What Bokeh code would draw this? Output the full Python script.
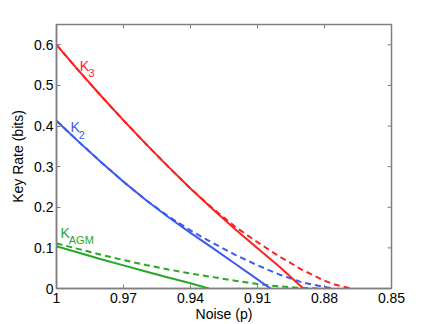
import math
from bokeh.plotting import figure
from bokeh.models import Range1d, FixedTicker, NumeralTickFormatter, Label
from bokeh.embed import file_html
from bokeh.resources import INLINE

# ---- data ----
p_k3 = [1.0, 0.99, 0.98, 0.97, 0.96, 0.95, 0.94, 0.93, 0.92, 0.91, 0.90, 0.8895]
k3_solid = [0.600, 0.536, 0.474, 0.414, 0.356, 0.300, 0.246, 0.195, 0.146, 0.099, 0.053, 0.0]
p_k3d = [1.0, 0.99, 0.98, 0.97, 0.96, 0.95, 0.94, 0.93, 0.92, 0.91, 0.90, 0.89, 0.88, 0.875, 0.87, 0.867]
k3_dashed = [0.600, 0.536, 0.474, 0.414, 0.356, 0.300, 0.246, 0.197, 0.152, 0.114, 0.078, 0.046,
             0.019, 0.009, 0.0025, 0.0]

p_k2 = [1.0, 0.99, 0.98, 0.97, 0.96, 0.95, 0.94, 0.93, 0.92, 0.91, 0.9042]
k2_solid = [0.413, 0.361, 0.311, 0.263, 0.218, 0.176, 0.137, 0.0995, 0.061, 0.0225, 0.0]
p_k2d = [1.0, 0.99, 0.98, 0.97, 0.96, 0.95, 0.94, 0.93, 0.92, 0.91, 0.90, 0.89, 0.88, 0.876]
k2_dashed = [0.413, 0.361, 0.311, 0.263, 0.218, 0.178, 0.143, 0.112, 0.083, 0.057, 0.034, 0.015,
             0.004, 0.0]

p_agm = [1.0, 0.99, 0.98, 0.97, 0.96, 0.95, 0.94, 0.9318]
agm_solid = [0.104, 0.088, 0.072, 0.057, 0.042, 0.027, 0.013, 0.0]
p_agmd = [1.0, 0.99, 0.98, 0.97, 0.96, 0.95, 0.94, 0.93, 0.92, 0.91, 0.90, 0.89, 0.882]
agm_dashed = [0.111, 0.097, 0.083, 0.070, 0.058, 0.047, 0.037, 0.028, 0.019, 0.011, 0.005, 0.0015, 0.0]

x_ticks = [1.0, 0.97, 0.94, 0.91, 0.88, 0.85]
y_ticks = [0.0, 0.1, 0.2, 0.3, 0.4, 0.5, 0.6]
x_lim = (1.0, 0.85)
y_lim = (0.0, 0.65)

RED = "#ff1f1f"
BLUE = "#3b5bf0"
GREEN = "#25a825"
AXIS = "#7f7f7f"
FONT = "Liberation Sans"

# label texts and anchor points (main letter, subscript)
labels = [
    ("K", "3", (0.9896, 0.5467), (0.9857, 0.5295), RED),
    ("K", "2", (0.9937, 0.3970), (0.9900, 0.3783), BLUE),
    ("K", "AGM", (0.9982, 0.1366), (0.9945, 0.1201), GREEN),
]

p = figure(width=423, height=324,
           x_range=Range1d(*x_lim), y_range=Range1d(*y_lim),
           output_backend="svg", toolbar_location=None,
           min_border_left=56, min_border_right=32,
           min_border_top=24, min_border_bottom=36,
           x_axis_label="Noise (p)", y_axis_label="Key Rate (bits)")
p.grid.visible = False
p.outline_line_color = AXIS
p.outline_line_width = 1.5
p.background_fill_color = "white"
p.border_fill_color = "white"

# curves
p.line(p_agmd, agm_dashed, line_color=GREEN, line_width=2, line_dash="6 4")
p.line(p_agm, agm_solid, line_color=GREEN, line_width=2)
p.line(p_k2d, k2_dashed, line_color=BLUE, line_width=2, line_dash="6 4")
p.line(p_k2, k2_solid, line_color=BLUE, line_width=2)
p.line(p_k3d, k3_dashed, line_color=RED, line_width=2, line_dash="6 4")
p.line(p_k3, k3_solid, line_color=RED, line_width=2)

# inward ticks on the top and right edges of the box (clipped to the frame)
p.scatter(x_ticks, [y_lim[1]] * len(x_ticks), marker="dash", size=8,
          angle=math.pi / 2, line_color=AXIS, line_width=1)
p.scatter([x_lim[1]] * len(y_ticks), y_ticks, marker="dash", size=8,
          angle=0, line_color=AXIS, line_width=1)

p.xaxis.ticker = FixedTicker(ticks=x_ticks)
p.yaxis.ticker = FixedTicker(ticks=y_ticks)

for ax in p.axis:
    ax.formatter = NumeralTickFormatter(format="0.[00]")
    ax.axis_line_color = AXIS
    ax.axis_line_width = 1.5
    ax.major_tick_line_color = AXIS
    ax.major_tick_line_width = 1
    ax.major_tick_in = 4
    ax.major_tick_out = 0
    ax.minor_tick_line_color = None
    ax.major_label_text_font = FONT
    ax.major_label_text_font_size = "14px"
    ax.major_label_text_color = "black"
    ax.axis_label_text_font = FONT
    ax.axis_label_text_font_size = "14px"
    ax.axis_label_text_font_style = "normal"
    ax.axis_label_text_color = "black"

p.xaxis.major_label_standoff = 4
p.yaxis.major_label_standoff = 3
p.xaxis.axis_label_standoff = 0
p.yaxis.axis_label_standoff = 5

for main, sub, (mx, my), (sx, sy), col in labels:
    p.add_layout(Label(x=mx, y=my, text=main, text_color=col, text_font=FONT,
                       text_font_size="14px", text_baseline="alphabetic", text_align="left"))
    p.add_layout(Label(x=sx, y=sy, text=sub, text_color=col, text_font=FONT,
                       text_font_size="11px", text_baseline="alphabetic", text_align="left"))

open("out.html", "w").write(file_html(p, INLINE))
